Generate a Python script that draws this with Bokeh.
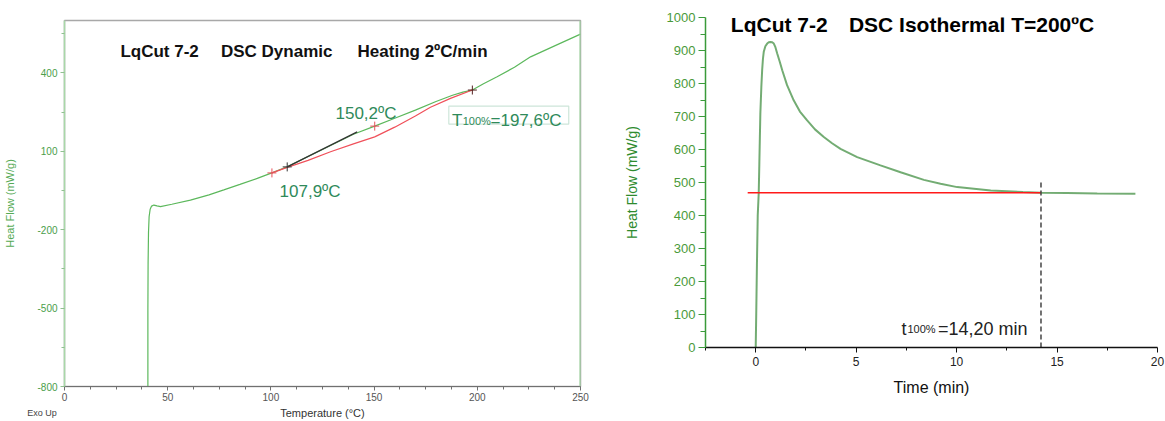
from bokeh.plotting import figure
from bokeh.layouts import row, column
from bokeh.models import Range1d, FixedTicker, Label, Span, BoxAnnotation
from bokeh.embed import file_html
from bokeh.resources import INLINE

# ---------------- data: dynamic DSC (left) ----------------
dyn_T = [40.4, 40.4, 40.5, 40.7, 41.0, 41.5, 42.2, 43.3, 44.8, 46.5, 52.0, 61.0, 70.0,
         77.2, 85.0, 93.4, 101.1, 107.9, 118.0, 128.9, 140.0, 150.3, 160.0, 170.0,
         180.0, 188.0, 193.0, 197.6, 203.0, 209.6, 218.0, 225.8, 238.0, 250.0]
dyn_HF = [-800, -510, -330, -210, -150, -122, -110, -106, -109, -112, -103, -87, -67,
          -48, -27, -4, 19, 40, 80, 122, 165, 196, 226, 257,
          290, 314, 326, 334, 358, 385, 421, 461, 505, 548]
baseline_T = [100.5, 107.9, 118.0, 128.9, 140.0, 150.3, 160.0, 170.0, 177.3, 187.0, 197.6]
baseline_HF = [17, 38, 65, 98, 128, 155, 192, 235, 268, 302, 334]
tangent_T = [107.9, 141.8]
tangent_HF = [40, 174]
mark_T = [100.5, 107.9, 150.3, 197.6]
mark_HF = [17, 40, 196, 334]
mark_colors = ["#e8505a", "#333333", "#e8505a", "#552222"]
dyn_xticks = [0, 50, 100, 150, 200, 250]
dyn_yticks = [-800, -500, -200, 100, 400]

# ---------------- data: isothermal DSC (right) ----------------
iso_t = [0.0, 0.025, 0.06, 0.10, 0.15, 0.18, 0.23, 0.28, 0.32, 0.36, 0.40, 0.48, 0.57,
         0.65, 0.73, 0.82, 0.90, 0.98, 1.07, 1.20, 1.32, 1.56, 1.89, 2.2, 2.56, 2.95,
         3.39, 3.8, 4.22, 5.05, 6.21, 7.21, 8.37, 9.2, 10.03, 11.7,
         13.3, 14.2, 15.5, 17.0, 18.9]
iso_HF = [0, 100, 250, 400, 469, 557, 708, 790, 840, 875, 896, 913, 921,
          925, 926, 925, 921, 910, 891, 865, 840, 795, 749, 715, 688, 661,
          638, 619, 602, 577, 552, 531, 508, 496, 486, 476,
          471, 469, 468, 467, 466]
iso_baseline = 469
iso_baseline_start = -0.4
t100 = 14.20
t100_line_top = 502
iso_xticks = [0, 5, 10, 15, 20]
iso_yticks = [0, 100, 200, 300, 400, 500, 600, 700, 800, 900, 1000]

FONT = "Liberation Sans"
GREEN_TXT = "#2f8a5a"

# ================= left figure =================
p1 = figure(width=600, height=421, x_range=Range1d(0, 250), y_range=Range1d(-800, 600),
            output_backend="svg", toolbar_location=None,
            min_border_left=64, min_border_right=20, min_border_top=20, min_border_bottom=34)
p1.xgrid.visible = False
p1.ygrid.visible = False
p1.outline_line_color = "#a8a8a8"
p1.outline_line_width = 1.5
p1.background_fill_color = "white"
p1.border_fill_color = "white"

p1.xaxis.ticker = FixedTicker(ticks=dyn_xticks,
                              minor_ticks=[v * 12.5 for v in range(0, 21)])
p1.yaxis.ticker = FixedTicker(ticks=dyn_yticks,
                              minor_ticks=[v + 150 for v in dyn_yticks])
for ax in (p1.xaxis, p1.yaxis):
    ax.major_tick_in = 0
    ax.minor_tick_in = 0
    ax.major_tick_out = 4
    ax.minor_tick_out = 3
    ax.major_label_text_font = FONT
    ax.major_label_text_font_size = "10px"
    ax.axis_label_text_font = FONT
    ax.axis_label_text_font_style = "normal"
    ax.axis_label_text_font_size = "11px"

p1.xaxis.axis_line_color = "#707070"
p1.xaxis.major_tick_line_color = "#707070"
p1.xaxis.minor_tick_line_color = "#707070"
p1.xaxis.major_label_text_color = "#555555"
p1.xaxis.major_label_standoff = 2
p1.xaxis.axis_label = "Temperature (°C)"
p1.xaxis.axis_label_text_color = "#333333"
p1.xaxis.axis_label_standoff = 3

p1.yaxis.axis_line_color = "#a8d8a8"
p1.yaxis.axis_line_width = 1.5
p1.yaxis.major_tick_line_color = "#90c090"
p1.yaxis.minor_tick_line_color = "#90c090"
p1.yaxis.major_label_text_color = "#4a9e4a"
p1.yaxis.major_label_standoff = 3
p1.yaxis.major_label_overrides = {v: str(v) for v in dyn_yticks}
p1.yaxis.axis_label = "Heat Flow (mW/g)"
p1.yaxis.axis_label_text_color = "#55aa55"
p1.yaxis.axis_label_standoff = 18

p1.add_layout(Span(location=250, dimension="height", line_color="#a0dca0", line_width=2))

p1.line(dyn_T, dyn_HF, line_color="#5cb85c", line_width=1.2)
p1.line(baseline_T, baseline_HF, line_color="#f0505a", line_width=1.2)
p1.line(tangent_T, tangent_HF, line_color="#333333", line_width=1.2)
p1.scatter(mark_T, mark_HF, marker="cross", size=9, line_color=mark_colors, line_width=1)

def lab(p, x, y, text, size, color, bold=False, baseline="alphabetic", **kw):
    p.add_layout(Label(x=x, y=y, text=text, text_font=FONT, text_font_size=size,
                       text_color=color, text_font_style="bold" if bold else "normal",
                       text_baseline=baseline, **kw))

# title pieces (left)
lab(p1, 27.1, 480, "LqCut 7-2", "17px", "#111111", bold=True)
lab(p1, 75.8, 480, "DSC Dynamic", "17px", "#111111", bold=True)
lab(p1, 142.0, 480, "Heating 2ºC/min", "17px", "#111111", bold=True)

lab(p1, 131.3, 244.7, "150,2ºC", "17px", GREEN_TXT)
lab(p1, 104.2, -54.9, "107,9ºC", "17px", GREEN_TXT)

p1.add_layout(BoxAnnotation(left=186.2, right=244.3, bottom=204, top=272.6,
                            fill_alpha=0, line_color="#5aaa80", line_width=1.2))
lab(p1, 187.8, 216.4, "T", "17px", GREEN_TXT)
lab(p1, 192.9, 216.4, "100%", "11px", GREEN_TXT)
lab(p1, 206.4, 216.4, "=197,6ºC", "17px", GREEN_TXT)

# "Exo Up" note: hosted in the (roomy) top panel so the frame is not resized,
# but positioned in data units below/left of the origin
p1.add_layout(Label(x=-18.0, y=-900, text="Exo Up", text_font=FONT,
                    text_font_size="9px", text_color="#444444",
                    text_baseline="middle"), "above")

# ================= right figure =================
p2 = figure(width=565, height=421, x_range=Range1d(-2.5, 20), y_range=Range1d(0, 1000),
            output_backend="svg", toolbar_location=None,
            min_border_left=105, min_border_right=8, min_border_top=17, min_border_bottom=74)
p2.xgrid.visible = False
p2.ygrid.visible = False
p2.outline_line_color = None
p2.background_fill_color = "white"
p2.border_fill_color = "white"

p2.xaxis.ticker = FixedTicker(ticks=iso_xticks, minor_ticks=[-2.5, 2.5, 7.5, 12.5, 17.5])
p2.yaxis.ticker = FixedTicker(ticks=iso_yticks, minor_ticks=[v + 50 for v in iso_yticks[:-1]])
for ax in (p2.xaxis, p2.yaxis):
    ax.major_tick_in = 0
    ax.minor_tick_in = 0
    ax.major_label_text_font = FONT
    ax.axis_label_text_font = FONT
    ax.axis_label_text_font_style = "normal"

p2.xaxis.axis_line_color = "#111111"
p2.xaxis.axis_line_width = 1.5
p2.xaxis.major_tick_line_color = "#111111"
p2.xaxis.minor_tick_line_color = "#111111"
p2.xaxis.major_tick_out = 5
p2.xaxis.minor_tick_out = 3
p2.xaxis.major_label_text_color = "#222222"
p2.xaxis.major_label_text_font_size = "12px"
p2.xaxis.major_label_standoff = 4
p2.xaxis.axis_label = "Time (min)"
p2.xaxis.axis_label_text_font_size = "16px"
p2.xaxis.axis_label_text_color = "#111111"
p2.xaxis.axis_label_standoff = 10

p2.yaxis.axis_line_color = "#3a9a3a"
p2.yaxis.axis_line_width = 1.5
p2.yaxis.major_tick_line_color = "#3a9a3a"
p2.yaxis.minor_tick_line_color = "#3a9a3a"
p2.yaxis.major_tick_out = 7
p2.yaxis.minor_tick_out = 5
p2.yaxis.major_label_text_color = "#4a9a3a"
p2.yaxis.major_label_text_font_size = "13px"
p2.yaxis.major_label_standoff = 3
p2.yaxis.axis_label = "Heat Flow (mW/g)"
p2.yaxis.axis_label_text_font_size = "14px"
p2.yaxis.axis_label_text_color = "#2e8b2e"
p2.yaxis.axis_label_standoff = 24

p2.line(iso_t, iso_HF, line_color="#5a9e5a", line_width=2, line_alpha=0.85)
p2.line([iso_baseline_start, t100], [iso_baseline, iso_baseline], line_color="#ff1a1a", line_width=1.5)
p2.line([t100, t100], [0, t100_line_top], line_color="#444444", line_width=1.5, line_dash="5 3")

lab(p2, -1.24, 980, "LqCut 7-2", "21px", "#000000", bold=True)
lab(p2, 4.64, 980, "DSC Isothermal T=200ºC", "21px", "#000000", bold=True)

lab(p2, 7.26, 56, "t", "18px", "#222222")
lab(p2, 7.55, 56, "100%", "11px", "#222222")
lab(p2, 9.07, 56, "=14,20 min", "18px", "#222222")

layout = row(column(p1), column(p2))
open("out.html", "w").write(file_html(layout, INLINE))
